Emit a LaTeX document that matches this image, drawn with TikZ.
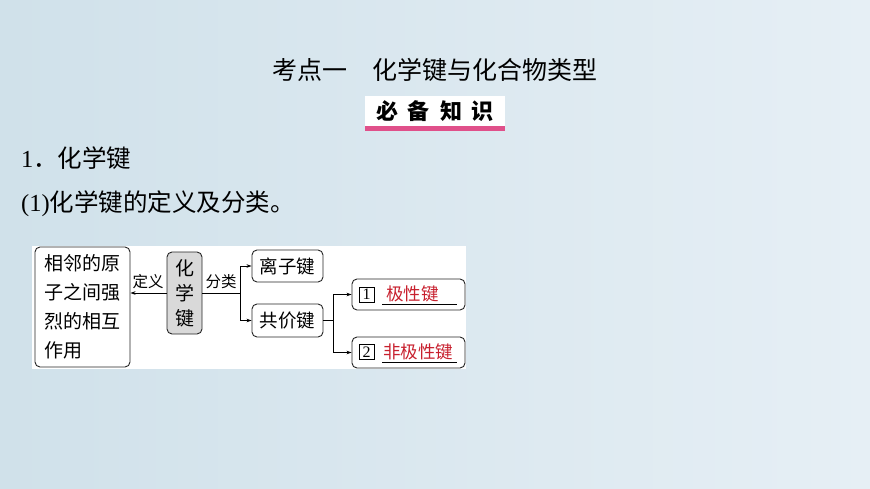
\documentclass[tikz,border=0pt]{standalone}
\usepackage{fontspec}
\setmainfont{Liberation Serif}
\newfontfamily\cjk{Noto Sans CJK SC}
\usetikzlibrary{arrows.meta}
\definecolor{bgL}{HTML}{D0E1EA}
\definecolor{bgR}{HTML}{E6EFF5}
\definecolor{graybox}{HTML}{D9D9D9}
\definecolor{redtxt}{HTML}{C8202E}
\definecolor{pinkbar}{HTML}{E0508A}
\tikzset{
 fbox/.style={draw=black!85, line width=0.9pt, rounded corners=5pt, fill=white, inner sep=0pt, font=\cjk\fontsize{18.5}{25}\selectfont},
 lbl/.style={font=\cjk\fontsize{15.5}{18}\selectfont, inner sep=0pt},
 arr/.style={line width=0.8pt, -{Stealth[length=5pt,width=3.5pt]}},
 ln/.style={line width=0.8pt},
 numbox/.style={draw, line width=0.8pt, minimum width=15pt, minimum height=15pt, inner sep=0pt, font=\fontsize{16}{16}\selectfont},
 redt/.style={text=redtxt, font=\cjk\fontsize{17.5}{20}\selectfont, inner sep=0pt, anchor=west},
 bigtxt/.style={inner sep=0pt, font=\fontsize{24.5}{28}\selectfont, anchor=west},
}
\begin{document}
\begin{tikzpicture}[x=1pt,y=-1pt]
\useasboundingbox (0,0) rectangle (870,489);
\shade[left color=bgL, right color=bgR] (0,0) rectangle (870,489);
\fill[white] (32,246) rectangle (466,369);

% headings
\node[inner sep=0pt, font=\cjk\fontsize{25}{28}\selectfont] (title) at (435,70) {考点一\quad 化学键与化合物类型};
\fill[white] (365,96) rectangle (505,126);
\fill[pinkbar] (365,126) rectangle (505,131);
\node[inner sep=0pt, font=\cjk\bfseries\fontsize{22}{24}\selectfont] (bibei) at (435,111) {必\hspace{10pt}备\hspace{10pt}知\hspace{10pt}识};
\node[bigtxt] (h1) at (21,158) {1{\cjk ．化学键}};
\node[bigtxt] (h2) at (21,204) {(1){\cjk 化学键的定义及分类。}};

% diagram
\node[fbox, minimum width=95pt, minimum height=120pt, align=left, font=\cjk\fontsize{19}{29}\selectfont] (def) at (82.5,307) {相邻的原\\子之间强\\烈的相互\\作用};
\node[fbox, fill=graybox, minimum width=35pt, minimum height=82pt, align=center, font=\cjk\fontsize{19}{25}\selectfont] (hx) at (184.5,293) {化\\学\\键};
\node[fbox, minimum width=71pt, minimum height=32pt] (ion) at (287.5,266) {离子键};
\node[fbox, minimum width=71pt, minimum height=33pt] (cov) at (287.5,320.5) {共价键};
\node[fbox, minimum width=113pt, minimum height=31pt] (pol) at (408.5,294.5) {};
\node[fbox, minimum width=113pt, minimum height=31pt] (npol) at (408.5,352.5) {};

\node[lbl] (l1) at (148,282) {定义};
\node[lbl] (l2) at (221,282) {分类};

\draw[arr] (hx.west) -- (def.east |- hx.west);

\coordinate (b1) at (240,293);
\draw[ln] (hx.east) -- (b1);
\draw[ln] (b1 |- ion.west) -- (b1 |- cov.west);
\draw[arr] (b1 |- ion.west) -- (ion.west);
\draw[arr] (b1 |- cov.west) -- (cov.west);

\coordinate (b2) at (333,320.5);
\draw[ln] (cov.east) -- (b2);
\draw[ln] (b2 |- pol.west) -- (b2 |- npol.west);
\draw[arr] (b2 |- pol.west) -- (pol.west);
\draw[arr] (b2 |- npol.west) -- (npol.west);

\node[numbox] (n1) at (366.5,294.5) {1};
\node[redt] (t1) at (386,293.5) {极性键};
\draw[line width=0.8pt] (382,304) -- (457,304);
\node[numbox] (n2) at (366.5,352) {2};
\node[redt] (t2) at (383,351.5) {非极性键};
\draw[line width=0.8pt] (382,362) -- (457,362);
\end{tikzpicture}
\end{document}
